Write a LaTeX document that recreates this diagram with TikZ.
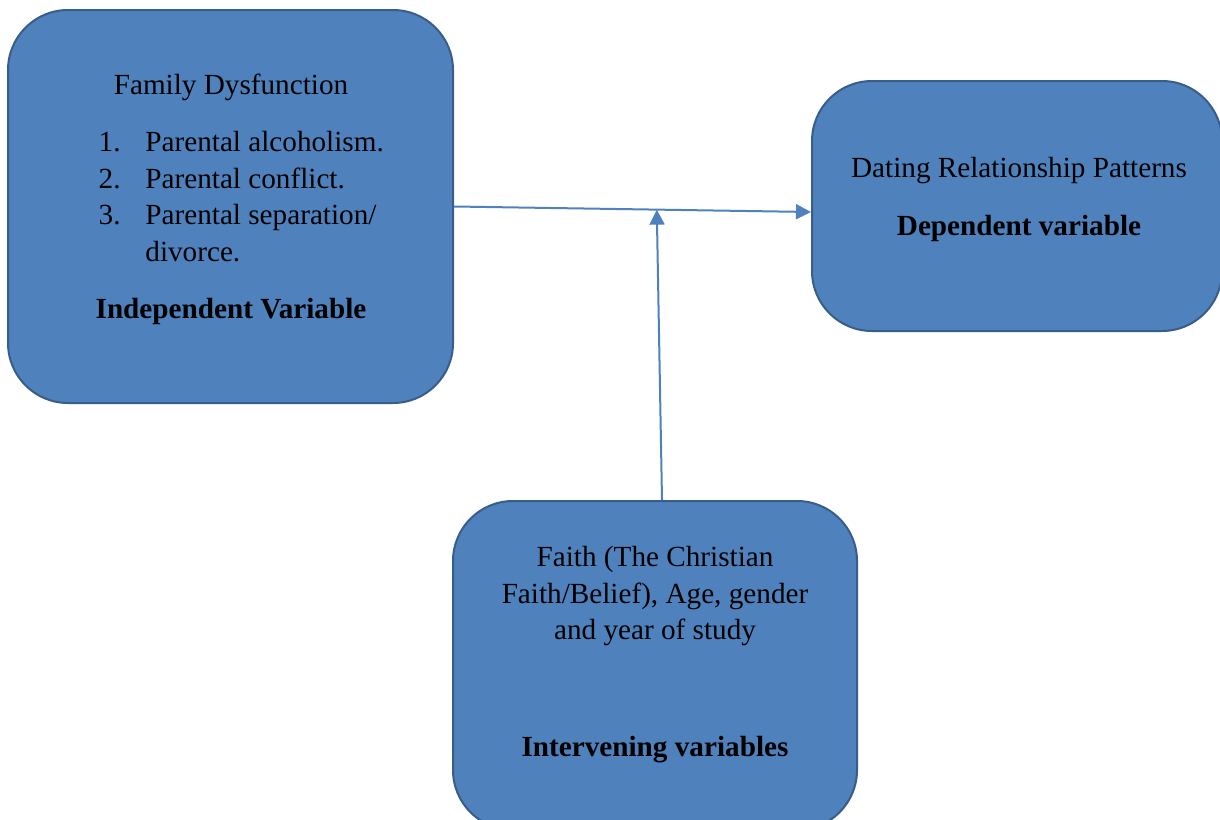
\documentclass[tikz,border=0pt]{standalone}
\usepackage{fontspec}
\setmainfont{Liberation Serif}
\usetikzlibrary{calc,arrows.meta}
\definecolor{boxblue}{HTML}{4F81BD}
\definecolor{boxedge}{HTML}{385D8A}
\tikzset{
	varbox/.style={draw=boxedge, line width=1pt, fill=boxblue, rounded corners=30pt, inner sep=0pt},
	txt/.style={anchor=base, inner sep=0pt, font=\fontsize{14.6}{17}\selectfont},
	btxt/.style={txt, font=\fontsize{14.6}{17}\selectfont\bfseries},
	link/.style={draw=boxblue, line width=1pt, -{Triangle[length=7.5pt,width=7.5pt]}}
}

\begin{document}
\begin{tikzpicture}[x=0.5pt, y=-0.5pt]
		%%%%% START %%%%%
		
		\useasboundingbox (0, 0) rectangle (1220, 819);
		\clip (0, 0) rectangle (1220, 819);
		
		\node[varbox, minimum width=222.5pt, minimum height=196.5pt] (fam) at (230.5, 206.5) {};
		\node[varbox, minimum width=205pt, minimum height=125pt] (dating) at (1017, 206) {};
		\node[varbox, minimum width=202pt, minimum height=164.5pt] (faith) at (655, 665.5) {};
		
		\node[txt] (famtitle) at (231, 94) {Family Dysfunction};
		\foreach \n/\t/\y in {1/Parental alcoholism./151, 2/Parental conflict./188, 3/Parental separation\slash/224}{
			\node[txt, anchor=base east] (num\n) at (121, \y) {\n.};
			\node[txt, anchor=base west] (item\n) at (145, \y) {\t};
		}
		\node[txt, anchor=base west] (item4) at (145, 261) {divorce.};
		\node[btxt] (indep) at (231, 318) {Independent Variable};
		
		\node[txt] (datingtitle) at (1019, 177) {Dating Relationship Patterns};
		\node[btxt] (dep) at (1019, 235) {Dependent variable};
		
		\node[txt] (faith1) at (655, 566) {Faith (The Christian};
		\node[txt] (faith2) at (655, 603) {Faith/Belief), Age, gender};
		\node[txt] (faith3) at (655, 639) {and year of study};
		\node[btxt] (interv) at (655, 756) {Intervening variables};
		
		\draw[link] (fam.east) -- ([yshift=-3pt]dating.west);
		\coordinate (mod) at ($(fam.east)!0.568!([yshift=-3pt]dating.west)$);
		\draw[link] ([xshift=3.5pt]faith.north) -- (mod);
		
		%%%%% END %%%%%
	\end{tikzpicture}
\end{document}
